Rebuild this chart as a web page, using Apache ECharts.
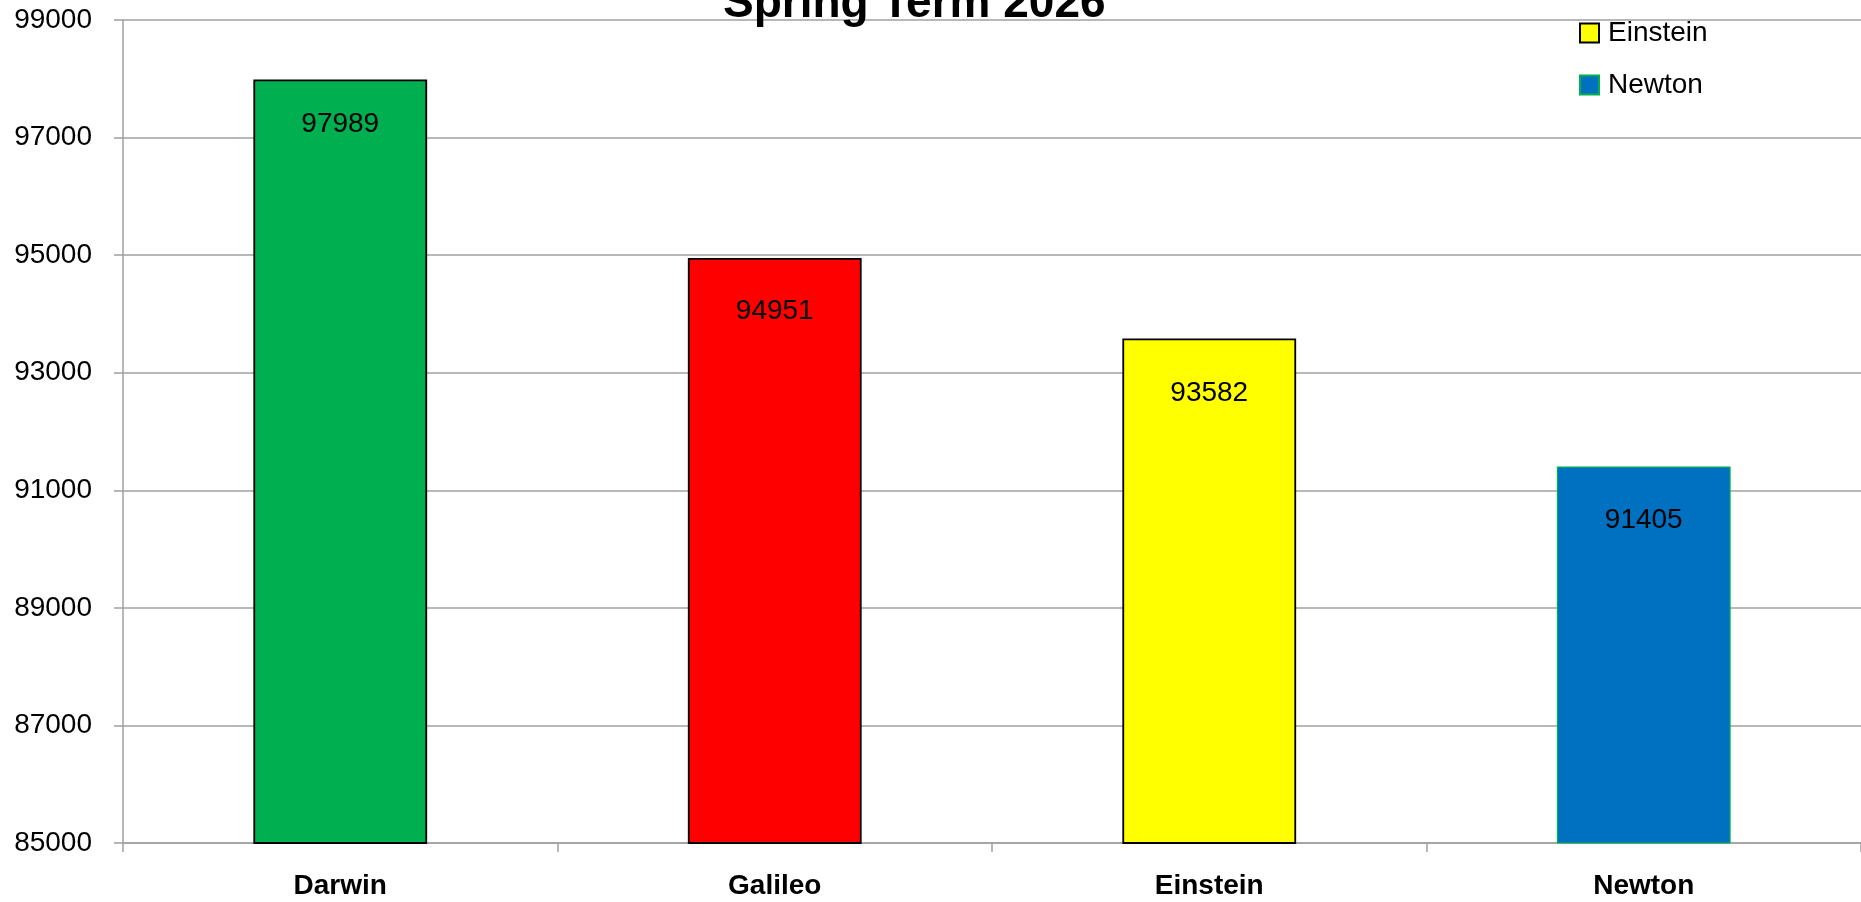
<!DOCTYPE html>
<html><head><meta charset="utf-8">
<script src="https://cdn.jsdelivr.net/npm/echarts@6/dist/echarts.min.js"></script>
<style>html,body{margin:0;padding:0;background:#fff}#c{width:1861px;height:902px}</style>
</head><body><div id="c"></div>
<script>
const titleText = 'Spring Term 2026';
const categories = ['Darwin', 'Galileo', 'Einstein', 'Newton'];
const values = [97989, 94951, 93582, 91405];
const yTicks = [85000, 87000, 89000, 91000, 93000, 95000, 97000, 99000];
const colors = ['#00B050', '#FF0000', '#FFFF00', '#0070C0'];
const borders = ['#000000', '#000000', '#000000', '#00B050'];
const labelGaps = [31, 39, 41, 40];

const FONT = '"Liberation Sans", Arial, sans-serif';
const chart = echarts.init(document.getElementById('c'));
const series = categories.map((name, i) => ({
  name: name,
  type: 'bar',
  barWidth: '40%',
  barGap: '-100%',
  data: categories.map((c, j) => j === i ? values[i] : '-'),
  itemStyle: { color: colors[i], borderColor: borders[i], borderWidth: i === 3 ? 1.2 : 1.8 },
  label: { show: true, position: 'insideTop', distance: labelGaps[i], color: '#000', fontSize: 28, fontFamily: FONT },
  animation: false
}));
chart.setOption({
  backgroundColor: '#fff',
  animation: false,
  title: { text: titleText, left: 723, top: -19, padding: 0, textStyle: { fontSize: 46, fontWeight: 'bold', color: '#000', fontFamily: FONT } },
  legend: {
    orient: 'vertical', left: 1579, top: -85, padding: 0, itemWidth: 19, itemHeight: 19, itemGap: 24,
    icon: 'rect',
    data: categories,
    textStyle: { fontSize: 28, color: '#000', fontFamily: FONT, padding: [0, 0, 0, 4] }
  },
  grid: { left: 123, right: 0, top: 20, bottom: 59, containLabel: false },
  xAxis: {
    type: 'category', data: categories,
    axisLine: { lineStyle: { color: '#A0A0A0', width: 1.5 } },
    axisTick: { show: true, length: 9, lineStyle: { color: '#A0A0A0', width: 1.5 } },
    axisLabel: { color: '#000', fontSize: 28, fontWeight: 'bold', margin: 29, fontFamily: FONT }
  },
  yAxis: {
    type: 'value', min: 85000, max: 99000,
    axisLine: { show: true, lineStyle: { color: '#A0A0A0', width: 1.5 } },
    axisTick: { show: true, length: 9, customValues: yTicks, lineStyle: { color: '#A0A0A0', width: 1.5 } },
    axisLabel: { customValues: yTicks, color: '#000', fontSize: 28, margin: 31, fontFamily: FONT, formatter: v => String(v) },
    splitLine: { show: true, lineStyle: { color: '#A0A0A0', width: 1.5 } }
  },
  series: series
});
</script></body></html>
